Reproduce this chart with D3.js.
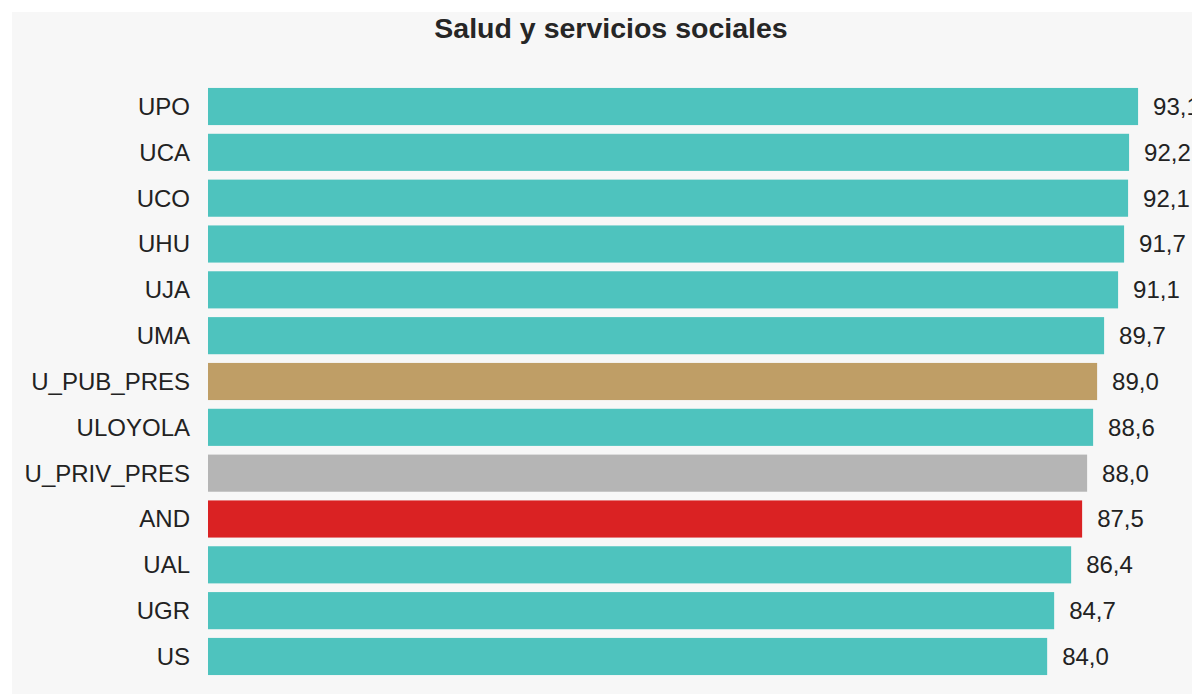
<!DOCTYPE html>
<html>
<head>
<meta charset="utf-8">
<script src="https://cdn.jsdelivr.net/npm/d3@7"></script>
<style>
  html, body { margin: 0; padding: 0; background: #fff; }
  svg { display: block; }
</style>
</head>
<body>
<svg id="chart" width="1192" height="694"></svg>
<script>
const universities = ["UPO", "UCA", "UCO", "UHU", "UJA", "UMA", "U_PUB_PRES", "ULOYOLA", "U_PRIV_PRES", "AND", "UAL", "UGR", "US"];
const values = [93.1, 92.2, 92.1, 91.7, 91.1, 89.7, 89.0, 88.6, 88.0, 87.5, 86.4, 84.7, 84.0];
const barColors = {
    U_PUB_PRES: "#bf9e66",
    U_PRIV_PRES: "#b5b5b5",
    AND: "#da2223"
};
const defaultColor = "#4ec3be";

const svg = d3.select("#chart");
const width = +svg.attr("width");
const height = +svg.attr("height");

const data = universities.map((name, i) => ({ name, value: values[i] }));

// panel de fondo
svg.append("rect")
    .attr("x", 12)
    .attr("y", 12)
    .attr("width", width - 12)
    .attr("height", height - 12)
    .attr("fill", "#f7f7f7");

svg.append("text")
    .attr("x", 611)
    .attr("y", 38)
    .attr("text-anchor", "middle")
    .style("font-family", "Liberation Sans, Arial, sans-serif")
    .style("font-size", "28.5px")
    .style("font-weight", "bold")
    .style("fill", "#262626")
    .text("Salud y servicios sociales");

const x = d3.scaleLinear()
    .domain([0, 100])
    .range([208, 1207]);

const y = d3.scaleBand()
    .domain(universities)
    .range([83.6, 679.4])
    .paddingInner(0.19)
    .paddingOuter(0.095);

const fmt = d3.formatLocale({ decimal: ",", thousands: ".", grouping: [3], currency: ["", "€"] }).format(".1f");

const rows = svg.selectAll("g.row")
    .data(data)
    .enter()
    .append("g")
    .attr("class", "row");

rows.append("rect")
    .attr("x", x(0))
    .attr("y", d => y(d.name))
    .attr("width", d => x(d.value) - x(0))
    .attr("height", y.bandwidth())
    .attr("fill", d => barColors[d.name] || defaultColor);

rows.append("text")
    .attr("x", 190)
    .attr("y", d => y(d.name) + y.bandwidth() / 2)
    .attr("dy", "0.35em")
    .attr("text-anchor", "end")
    .style("font-family", "Liberation Sans, Arial, sans-serif")
    .style("font-size", "24px")
    .style("fill", "#222")
    .text(d => d.name);

rows.append("text")
    .attr("x", d => x(d.value) + 15)
    .attr("y", d => y(d.name) + y.bandwidth() / 2)
    .attr("dy", "0.35em")
    .style("font-family", "Liberation Sans, Arial, sans-serif")
    .style("font-size", "24px")
    .style("fill", "#222")
    .text(d => fmt(d.value));
</script>
</body>
</html>
